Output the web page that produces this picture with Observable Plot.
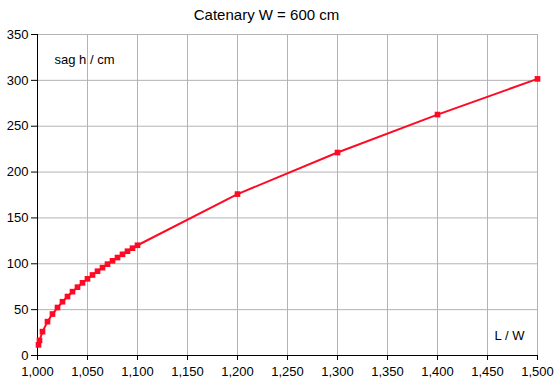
<!DOCTYPE html>
<html>
<head>
<meta charset="utf-8">
<script src="https://cdn.jsdelivr.net/npm/d3@7"></script>
<script src="https://cdn.jsdelivr.net/npm/@observablehq/plot@0.6"></script>
<style>
  html, body { margin: 0; padding: 0; background: #fff; }
  svg { font-family: "Liberation Sans", Arial, sans-serif; }
</style>
</head>
<body>
<div id="chart"></div>
<script>
const title = "Catenary W = 600 cm";
const yLabel = "sag h / cm";
const xLabel = "L / W";
const ratio = [1.001, 1.002, 1.005, 1.010, 1.015, 1.020, 1.025, 1.030, 1.035, 1.040, 1.045, 1.050,
  1.055, 1.060, 1.065, 1.070, 1.075, 1.080, 1.085, 1.090, 1.095, 1.100, 1.200, 1.300, 1.400, 1.500];
const sag = [11.6, 16.4, 26.0, 36.9, 45.2, 52.3, 58.6, 64.3, 69.6, 74.5, 79.2, 83.6,
  87.8, 91.9, 95.8, 99.6, 103.2, 106.8, 110.3, 113.7, 117.0, 120.2, 176.0, 221.3, 262.7, 301.6];
const xTicks = [1.0, 1.05, 1.1, 1.15, 1.2, 1.25, 1.3, 1.35, 1.4, 1.45, 1.5];
const yTicks = [0, 50, 100, 150, 200, 250, 300, 350];

const data = ratio.map((r, i) => ({r, h: sag[i]}));
const fmt = d => d.toFixed(3).replace(".", ",");
const red = "#ff0a24";
const grid = "#b3b3b3";

const chart = Plot.plot({
  width: 560,
  height: 388,
  marginLeft: 37,
  marginRight: 23,
  marginTop: 34,
  marginBottom: 33,
  style: {fontSize: "13px", fontFamily: "'Liberation Sans', Arial, sans-serif", color: "#000"},
  x: {domain: [1.0, 1.5]},
  y: {domain: [0, 350]},
  marks: [
    Plot.gridX(xTicks, {stroke: grid, strokeOpacity: 1, strokeWidth: 1}),
    Plot.gridY(yTicks, {stroke: grid, strokeOpacity: 1, strokeWidth: 1}),
    Plot.ruleX([1.0], {stroke: "#000"}),
    Plot.ruleY([0], {stroke: "#000"}),
    Plot.axisX(xTicks, {tickFormat: fmt, tickSize: 5, tickPadding: 6, label: null, fontSize: 13}),
    Plot.axisY(yTicks, {tickSize: 6, tickPadding: 3, label: null, fontSize: 13}),
    Plot.line(data, {x: "r", y: "h", stroke: red, strokeWidth: 2}),
    Plot.dot(data, {x: "r", y: "h", symbol: "square", r: 3.2, fill: red, stroke: "none"}),
    Plot.text([title], {frameAnchor: "top-left", dx: 229, dy: -19, textAnchor: "middle", fontSize: 15, lineAnchor: "middle", dy: -19}),
    Plot.text([yLabel], {frameAnchor: "top-left", dx: 17, dy: 20, textAnchor: "start", fontSize: 13}),
    Plot.text([xLabel], {frameAnchor: "bottom-right", dx: -28, dy: -16, textAnchor: "middle", fontSize: 13})
  ]
});
document.getElementById("chart").appendChild(chart);
</script>
</body>
</html>
